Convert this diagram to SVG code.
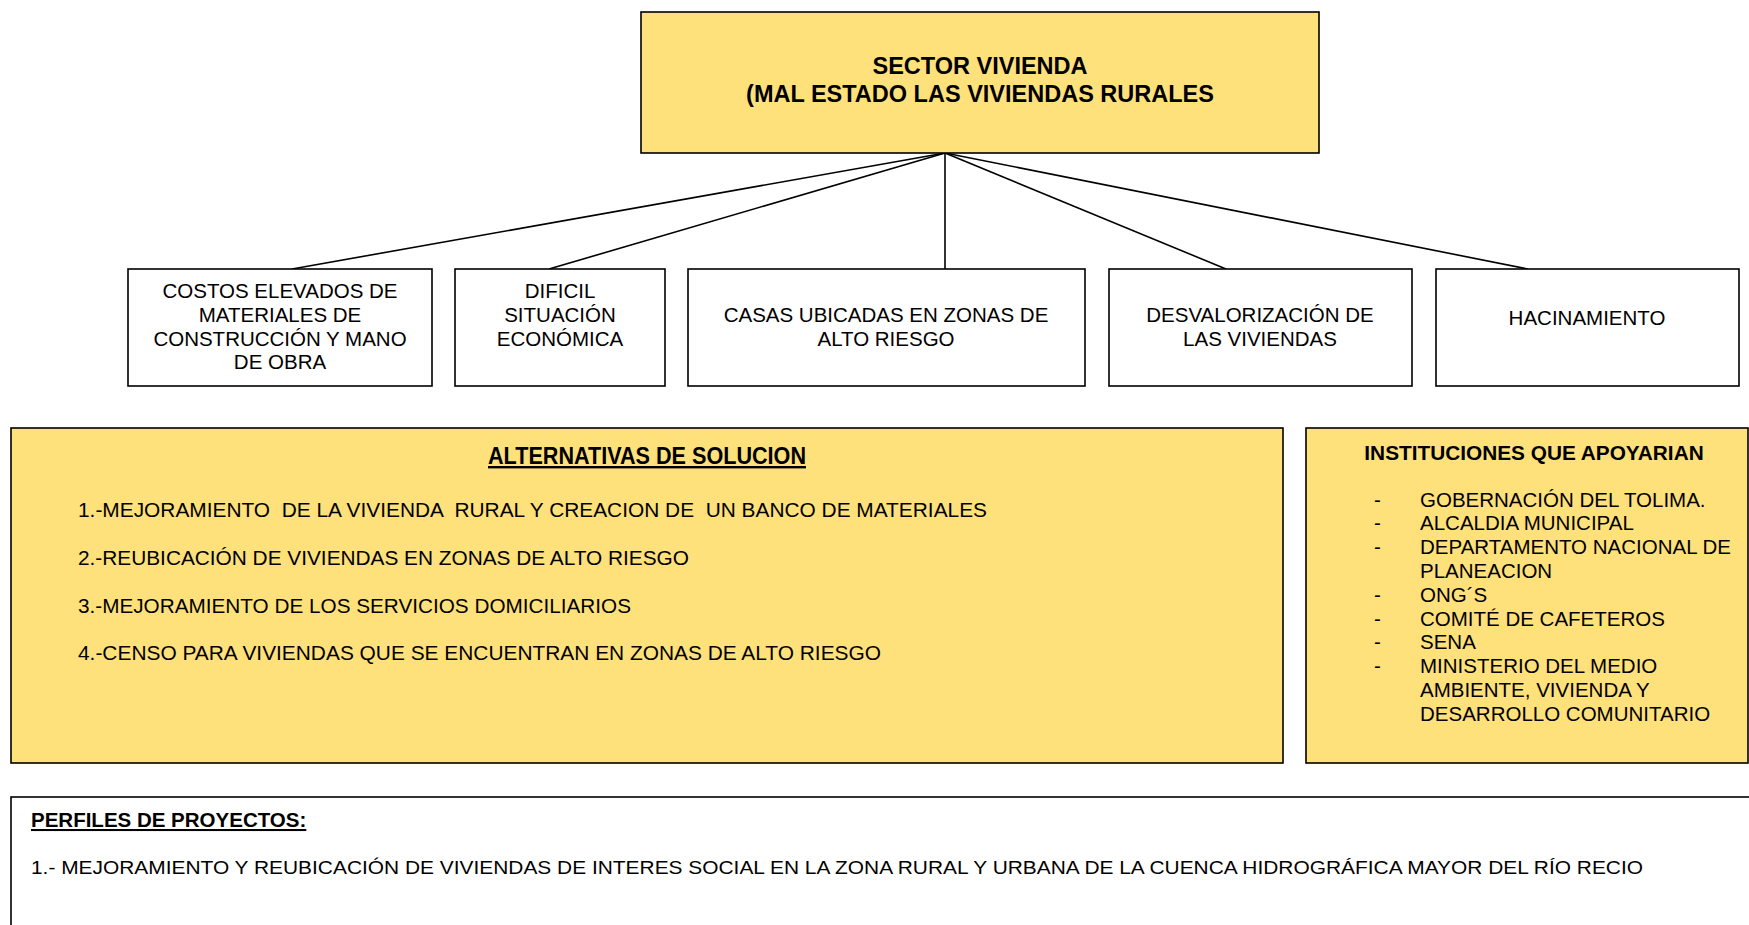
<svg xmlns="http://www.w3.org/2000/svg" width="1749" height="925" viewBox="0 0 1749 925">
<style>
.box{stroke:#000;stroke-width:1.6}
.y{fill:#FFE17B}
.w{fill:#fff}
text{font-family:"Liberation Sans",Arial,sans-serif;fill:#000}
.c{text-anchor:middle;font-size:20.5px}
.b{font-weight:bold}
.n{font-size:20.5px}
.conn{stroke:#000;stroke-width:1.6;fill:none}
</style>
<rect width="1749" height="925" fill="#fff"/>
<g id="connectors">
<line class="conn" x1="945" y1="153" x2="292" y2="269"/>
<line class="conn" x1="945" y1="153" x2="549" y2="269"/>
<line class="conn" x1="945" y1="153" x2="945" y2="269"/>
<line class="conn" x1="945" y1="153" x2="1226" y2="269"/>
<line class="conn" x1="945" y1="153" x2="1528" y2="269"/>
</g>
<g id="sector">
<rect class="box y" x="641" y="12" width="678" height="141"/>
<text class="c b" x="980" y="74" style="font-size:23.5px">SECTOR VIVIENDA</text>
<text class="c b" x="980" y="102" style="font-size:23.5px">(MAL ESTADO LAS VIVIENDAS RURALES</text>
</g>
<g id="costos">
<rect class="box w" x="128" y="269" width="304" height="117"/>
<text class="c" x="280" y="298">COSTOS ELEVADOS DE</text>
<text class="c" x="280" y="322">MATERIALES DE</text>
<text class="c" x="280" y="346">CONSTRUCCIÓN Y MANO</text>
<text class="c" x="280" y="369">DE OBRA</text>
</g>
<g id="dificil">
<rect class="box w" x="455" y="269" width="210" height="117"/>
<text class="c" x="560" y="298">DIFICIL</text>
<text class="c" x="560" y="322">SITUACIÓN</text>
<text class="c" x="560" y="346">ECONÓMICA</text>
</g>
<g id="casas">
<rect class="box w" x="688" y="269" width="397" height="117"/>
<text class="c" x="886" y="322">CASAS UBICADAS EN ZONAS DE</text>
<text class="c" x="886" y="346">ALTO RIESGO</text>
</g>
<g id="desvalorizacion">
<rect class="box w" x="1109" y="269" width="303" height="117"/>
<text class="c" x="1260" y="322">DESVALORIZACIÓN DE</text>
<text class="c" x="1260" y="346">LAS VIVIENDAS</text>
</g>
<g id="hacinamiento">
<rect class="box w" x="1436" y="269" width="303" height="117"/>
<text class="c" x="1587" y="325">HACINAMIENTO</text>
</g>
<g id="alternativas">
<rect class="box y" x="11" y="428" width="1272" height="335"/>
<text class="b" x="647" y="464" text-anchor="middle" style="font-size:24px;text-decoration:underline" textLength="318" lengthAdjust="spacingAndGlyphs">ALTERNATIVAS DE SOLUCION</text>
<text class="n" x="78" y="517" textLength="909" lengthAdjust="spacingAndGlyphs" xml:space="preserve">1.-MEJORAMIENTO  DE LA VIVIENDA  RURAL Y CREACION DE  UN BANCO DE MATERIALES</text>
<text class="n" x="78" y="565" textLength="611" lengthAdjust="spacingAndGlyphs">2.-REUBICACIÓN DE VIVIENDAS EN ZONAS DE ALTO RIESGO</text>
<text class="n" x="78" y="613" textLength="553" lengthAdjust="spacingAndGlyphs">3.-MEJORAMIENTO DE LOS SERVICIOS DOMICILIARIOS</text>
<text class="n" x="78" y="660" textLength="803" lengthAdjust="spacingAndGlyphs">4.-CENSO PARA VIVIENDAS QUE SE ENCUENTRAN EN ZONAS DE ALTO RIESGO</text>
</g>
<g id="instituciones">
<rect class="box y" x="1306" y="428" width="442" height="335"/>
<text class="b" x="1534" y="460" text-anchor="middle" style="font-size:20.8px">INSTITUCIONES QUE APOYARIAN</text>
<text class="n" x="1374" y="507" fill="#333">-</text><text class="n" x="1420" y="507">GOBERNACIÓN DEL TOLIMA.</text>
<text class="n" x="1374" y="530" fill="#333">-</text><text class="n" x="1420" y="530">ALCALDIA MUNICIPAL</text>
<text class="n" x="1374" y="554" fill="#333">-</text><text class="n" x="1420" y="554">DEPARTAMENTO NACIONAL DE</text>
<text class="n" x="1420" y="578">PLANEACION</text>
<text class="n" x="1374" y="602" fill="#333">-</text><text class="n" x="1420" y="602">ONG´S</text>
<text class="n" x="1374" y="626" fill="#333">-</text><text class="n" x="1420" y="626">COMITÉ DE CAFETEROS</text>
<text class="n" x="1374" y="649" fill="#333">-</text><text class="n" x="1420" y="649">SENA</text>
<text class="n" x="1374" y="673" fill="#333">-</text><text class="n" x="1420" y="673">MINISTERIO DEL MEDIO</text>
<text class="n" x="1420" y="697">AMBIENTE, VIVIENDA Y</text>
<text class="n" x="1420" y="721">DESARROLLO COMUNITARIO</text>
</g>
<g id="perfiles">
<rect class="box w" x="11" y="797" width="1760" height="160"/>
<text class="b" x="31" y="827" style="font-size:20.5px;text-decoration:underline">PERFILES DE PROYECTOS:</text>
<text x="31" y="874" style="font-size:19px" textLength="1612" lengthAdjust="spacingAndGlyphs">1.- MEJORAMIENTO Y REUBICACIÓN DE VIVIENDAS DE INTERES SOCIAL EN LA ZONA RURAL Y URBANA DE LA CUENCA HIDROGRÁFICA MAYOR DEL RÍO RECIO</text>
</g>
</svg>
